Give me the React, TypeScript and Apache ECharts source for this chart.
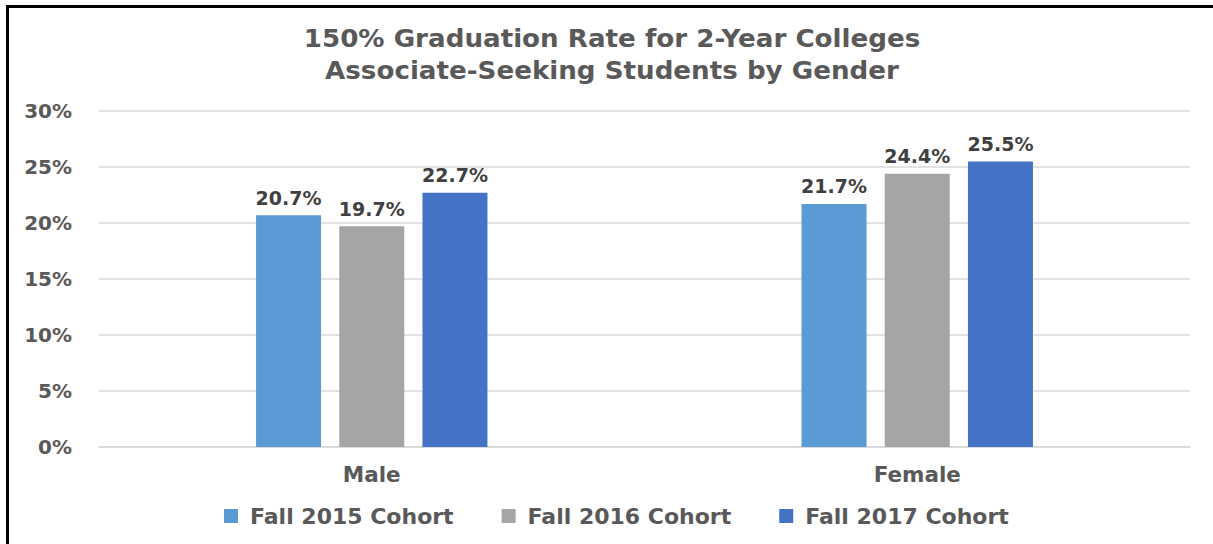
import React, { useEffect, useRef } from "react";
import * as echarts from "echarts";

const categories = ["Male", "Female"];
const seriesNames = ["Fall 2015 Cohort", "Fall 2016 Cohort", "Fall 2017 Cohort"];
const fall2015 = [20.7, 21.7];
const fall2016 = [19.7, 24.4];
const fall2017 = [22.7, 25.5];
const colors = ["#5B9BD5", "#A5A5A5", "#4472C4"];
const titleLines = ["150% Graduation Rate for 2-Year Colleges", "Associate-Seeking Students by Gender"];

const FONT = "'DejaVu Sans', sans-serif";
const TEXT = "#595959";

export default function App() {
  const ref = useRef<HTMLDivElement>(null);
  useEffect(() => {
    document.body.style.margin = "0";
    const chart = echarts.init(ref.current!, null, { renderer: "svg" });
    const values = [fall2015, fall2016, fall2017];
    chart.setOption({
      animation: false,
      backgroundColor: "#ffffff",
      textStyle: { fontFamily: FONT },
      graphic: [
        { type: "rect", shape: { x: 6, y: 5, width: 1213, height: 3 }, style: { fill: "#000" } },
        { type: "rect", shape: { x: 6, y: 5, width: 3, height: 544 }, style: { fill: "#000" } },
        {
          type: "text", x: 612, y: 39, scaleX: 1.09,
          style: { text: titleLines[0], fontFamily: FONT, fontWeight: "bold", fontSize: 24, fill: TEXT, textAlign: "center", textVerticalAlign: "middle" },
        },
        {
          type: "text", x: 612, y: 71, scaleX: 1.09,
          style: { text: titleLines[1], fontFamily: FONT, fontWeight: "bold", fontSize: 24, fill: TEXT, textAlign: "center", textVerticalAlign: "middle" },
        },
      ],
      legend: {
        data: seriesNames,
        bottom: 17,
        left: 224,
        padding: 0,
        itemWidth: 14,
        itemHeight: 14,
        itemGap: 48,
        icon: "rect",
        textStyle: { fontFamily: FONT, fontWeight: "bold", fontSize: 22, color: TEXT, padding: [0, 0, 0, 7] },
      },
      grid: { left: 99, right: 23, top: 111, bottom: 97, containLabel: false },
      xAxis: {
        type: "category",
        data: categories,
        axisLine: { show: true, lineStyle: { color: "#D9D9D9", width: 1.5 } },
        axisTick: { show: false },
        axisLabel: { fontFamily: FONT, fontWeight: "bold", fontSize: 21.5, color: TEXT, margin: 16 },
      },
      yAxis: {
        type: "value",
        min: 0,
        max: 30,
        interval: 5,
        axisLine: { show: false },
        axisTick: { show: false },
        splitLine: { lineStyle: { color: "#D9D9D9", width: 1.5 } },
        axisLabel: { formatter: "{value}%", fontFamily: FONT, fontWeight: "bold", fontSize: 20, color: TEXT, margin: 27 },
      },
      series: seriesNames.map((name, i) => ({
        name,
        type: "bar",
        data: values[i],
        barWidth: 65,
        barGap: "28%",
        itemStyle: { color: colors[i] },
        label: {
          show: true,
          position: "top",
          distance: 8,
          formatter: (p: any) => p.value.toFixed(1) + "%",
          fontFamily: FONT,
          fontWeight: "bold",
          fontSize: 19,
          color: "#404040",
        },
      })),
    });
    return () => chart.dispose();
  }, []);
  return <div ref={ref} style={{ width: 1213, height: 544 }} />;
}
